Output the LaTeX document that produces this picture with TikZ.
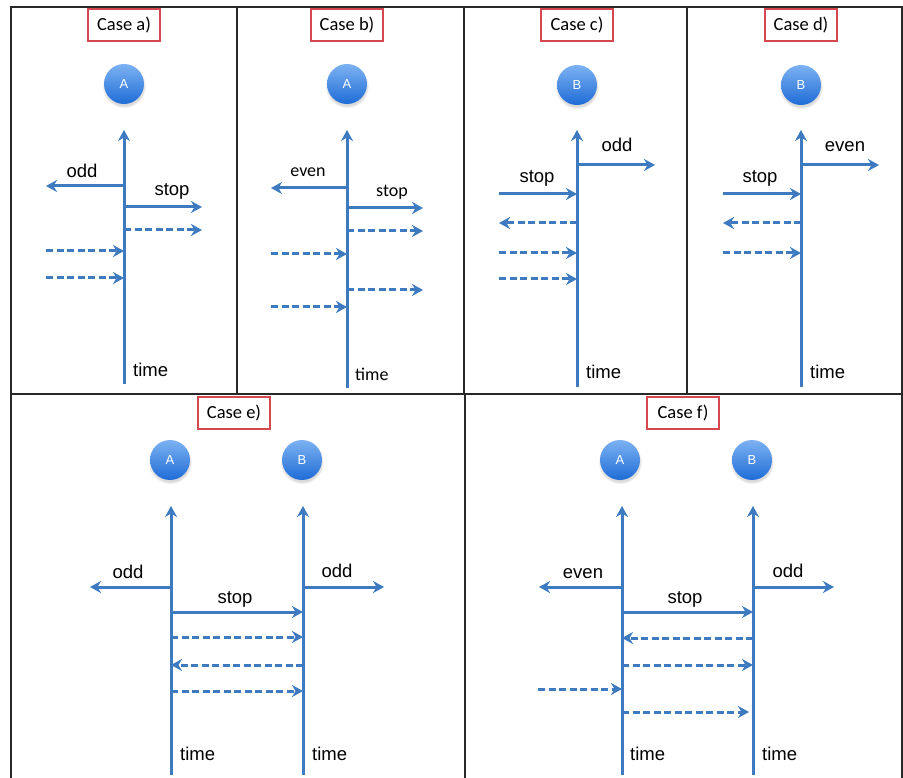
\documentclass[tikz,border=0pt]{standalone}
\usepackage{fontspec}
\setmainfont{Liberation Sans}
\newfontfamily\calibri{Carlito}
\usetikzlibrary{arrows.meta,shadows}
\definecolor{arrblue}{RGB}{62,122,192}
\definecolor{boxred}{RGB}{214,72,80}
\definecolor{ballhi}{RGB}{125,178,242}
\definecolor{balllo}{RGB}{30,108,215}
\definecolor{framec}{RGB}{40,40,40}
\begin{document}
\begin{tikzpicture}[x=1pt,y=-1pt,
  frame/.style={draw=framec, line width=1.3pt},
  casebox/.style={draw=boxred, line width=1.4pt, font=\calibri\fontsize{18.5}{20}\selectfont,
     minimum width=72pt, minimum height=32pt, inner xsep=6pt, inner ysep=4pt, fill=white},
  ball/.style={circle, minimum size=40pt, inner sep=0pt, top color=ballhi, bottom color=balllo,
     text=white, font=\fontsize{13}{15}\selectfont,
     circular drop shadow={shadow xshift=0pt, shadow yshift=-2pt, opacity=0.25, fill=black!60}},
  tip/.style={-{Stealth[length=11pt,width=12pt,inset=3.5pt]}},
  axis/.style={draw=arrblue, line width=3pt, tip},
  msg/.style={draw=arrblue, line width=3pt, tip},
  dmsg/.style={msg, dash pattern=on 7pt off 3.5pt},
  lbl/.style={font=\fontsize{18.5}{20}\selectfont, inner sep=0pt, anchor=base},
  clbl/.style={font=\calibri\fontsize{18}{20}\selectfont, inner sep=0pt, anchor=base},
]
\useasboundingbox (0,0) rectangle (903,778);
\fill[white] (0,0) rectangle (903,778);

% table frame
\coordinate (tl) at (11,7);
\coordinate (tr) at (902,7);
\coordinate (ml) at (11,394);
\coordinate (mr) at (902,394);
\coordinate (bl) at (11,778);
\coordinate (br) at (902,778);
\draw[frame] (bl) -- (tl) -- (tr) -- (br);
\draw[frame] (ml) -- (mr);
\coordinate (d1t) at (237,7);   \coordinate (d1b) at (237,394);
\coordinate (d2t) at (464,7);   \coordinate (d2b) at (464,394);
\coordinate (d3t) at (687,7);   \coordinate (d3b) at (687,394);
\coordinate (d4t) at (465,394); \coordinate (d4b) at (465,778);
\draw[frame] (d1t) -- (d1b);
\draw[frame] (d2t) -- (d2b);
\draw[frame] (d3t) -- (d3b);
\draw[frame] (d4t) -- (d4b);

% ================= Case a =================
\node[casebox] (ca) at (124,25) {Case a)};
\node[ball] (aA) at (124,84) {A};
\coordinate (aTop) at (124,130);
\coordinate (aBot) at (124,384);
\draw[axis] (aBot) -- (aTop);
\coordinate (a1) at (124,186); \coordinate (a1e) at (46,186);
\draw[msg] (a1) -- (a1e);
\node[lbl] (aodd) at (82,178) {odd};
\coordinate (a2) at (124,207); \coordinate (a2e) at (202,207);
\draw[msg] (a2) -- (a2e);
\node[lbl] (astop) at (172,196) {stop};
\coordinate (a3) at (124,230); \coordinate (a3e) at (202,230);
\draw[dmsg] (a3) -- (a3e);
\coordinate (a4s) at (46,251); \coordinate (a4) at (124,251);
\draw[dmsg] (a4s) -- (a4);
\coordinate (a5s) at (46,278); \coordinate (a5) at (124,278);
\draw[dmsg] (a5s) -- (a5);
\node[lbl, anchor=base west] (atime) at (133,376) {time};

% ================= Case b =================
\node[casebox] (cb) at (347,25) {Case b)};
\node[ball] (bA) at (347,84) {A};
\coordinate (bTop) at (347,130);
\coordinate (bBot) at (347,388);
\draw[axis] (bBot) -- (bTop);
\coordinate (b1) at (347,188); \coordinate (b1e) at (271,188);
\draw[msg] (b1) -- (b1e);
\node[clbl] (beven) at (308,177) {even};
\coordinate (b2) at (347,208); \coordinate (b2e) at (423,208);
\draw[msg] (b2) -- (b2e);
\node[clbl] (bstop) at (392,197) {stop};
\coordinate (b3) at (347,231); \coordinate (b3e) at (423,231);
\draw[dmsg] (b3) -- (b3e);
\coordinate (b4s) at (271,254); \coordinate (b4) at (347,254);
\draw[dmsg] (b4s) -- (b4);
\coordinate (b5) at (347,290); \coordinate (b5e) at (423,290);
\draw[dmsg] (b5) -- (b5e);
\coordinate (b6s) at (271,307); \coordinate (b6) at (347,307);
\draw[dmsg] (b6s) -- (b6);
\node[clbl, anchor=base west] (btime) at (355,380) {time};

% ================= Case c =================
\node[casebox] (cc) at (577,25) {Case c)};
\node[ball] (cB) at (577,85) {B};
\coordinate (cTop) at (577,130);
\coordinate (cBot) at (577,387);
\draw[axis] (cBot) -- (cTop);
\coordinate (c1) at (577,165); \coordinate (c1e) at (655,165);
\draw[msg] (c1) -- (c1e);
\node[lbl] (codd) at (617,152) {odd};
\coordinate (c2s) at (499,194); \coordinate (c2) at (577,194);
\draw[msg] (c2s) -- (c2);
\node[lbl] (cstop) at (537,183) {stop};
\coordinate (c3) at (577,223); \coordinate (c3e) at (499,223);
\draw[dmsg] (c3) -- (c3e);
\coordinate (c4s) at (499,253); \coordinate (c4) at (577,253);
\draw[dmsg] (c4s) -- (c4);
\coordinate (c5s) at (499,279); \coordinate (c5) at (577,279);
\draw[dmsg] (c5s) -- (c5);
\node[lbl, anchor=base west] (ctime) at (586,378) {time};

% ================= Case d =================
\node[casebox] (cd) at (801,25) {Case d)};
\node[ball] (dB) at (801,85) {B};
\coordinate (dTop) at (801,130);
\coordinate (dBot) at (801,387);
\draw[axis] (dBot) -- (dTop);
\coordinate (d1) at (801,165); \coordinate (d1e) at (879,165);
\draw[msg] (d1) -- (d1e);
\node[lbl] (deven) at (845,152) {even};
\coordinate (d2s) at (723,194); \coordinate (d2) at (801,194);
\draw[msg] (d2s) -- (d2);
\node[lbl] (dstop) at (760,183) {stop};
\coordinate (d3) at (801,223); \coordinate (d3e) at (723,223);
\draw[dmsg] (d3) -- (d3e);
\coordinate (d4s) at (723,253); \coordinate (d4) at (801,253);
\draw[dmsg] (d4s) -- (d4);
\node[lbl, anchor=base west] (dtime) at (810,378) {time};

% ================= Case e =================
\node[casebox] (ce) at (234,413) {Case e)};
\node[ball] (eA) at (170,460) {A};
\node[ball] (eB) at (302,460) {B};
\coordinate (eATop) at (171,506);
\coordinate (eABot) at (171,775);
\coordinate (eBTop) at (303,506);
\coordinate (eBBot) at (303,775);
\draw[axis] (eABot) -- (eATop);
\draw[axis] (eBBot) -- (eBTop);
\coordinate (e1) at (171,587); \coordinate (e1e) at (90,587);
\draw[msg] (e1) -- (e1e);
\node[lbl] (eodd1) at (128,578) {odd};
\coordinate (e2) at (303,587); \coordinate (e2e) at (384,587);
\draw[msg] (e2) -- (e2e);
\node[lbl] (eodd2) at (337,577) {odd};
\coordinate (e3s) at (171,612); \coordinate (e3) at (303,612);
\draw[msg] (e3s) -- (e3);
\node[lbl] (estop) at (235,603) {stop};
\coordinate (e4s) at (171,637); \coordinate (e4) at (303,637);
\draw[dmsg] (e4s) -- (e4);
\coordinate (e5s) at (303,665); \coordinate (e5) at (171,665);
\draw[dmsg] (e5s) -- (e5);
\coordinate (e6s) at (171,691); \coordinate (e6) at (303,691);
\draw[dmsg] (e6s) -- (e6);
\node[lbl, anchor=base west] (etime1) at (180,760) {time};
\node[lbl, anchor=base west] (etime2) at (312,760) {time};

% ================= Case f =================
\node[casebox] (cf) at (683,413) {Case f)};
\node[ball] (fA) at (620,460) {A};
\node[ball] (fB) at (752,460) {B};
\coordinate (fATop) at (622,506);
\coordinate (fABot) at (622,775);
\coordinate (fBTop) at (753,506);
\coordinate (fBBot) at (753,775);
\draw[axis] (fABot) -- (fATop);
\draw[axis] (fBBot) -- (fBTop);
\coordinate (f1) at (622,587); \coordinate (f1e) at (539,587);
\draw[msg] (f1) -- (f1e);
\node[lbl] (feven) at (583,578) {even};
\coordinate (f2) at (753,587); \coordinate (f2e) at (834,587);
\draw[msg] (f2) -- (f2e);
\node[lbl] (fodd) at (788,577) {odd};
\coordinate (f3s) at (622,612); \coordinate (f3) at (753,612);
\draw[msg] (f3s) -- (f3);
\node[lbl] (fstop) at (685,603) {stop};
\coordinate (f4s) at (753,638); \coordinate (f4) at (622,638);
\draw[dmsg] (f4s) -- (f4);
\coordinate (f5s) at (622,665); \coordinate (f5) at (753,665);
\draw[dmsg] (f5s) -- (f5);
\coordinate (f6s) at (538,689); \coordinate (f6) at (622,689);
\draw[dmsg] (f6s) -- (f6);
\coordinate (f7s) at (622,712); \coordinate (f7) at (749,712);
\draw[dmsg] (f7s) -- (f7);
\node[lbl, anchor=base west] (ftime1) at (630,760) {time};
\node[lbl, anchor=base west] (ftime2) at (762,760) {time};
\end{tikzpicture}
\end{document}
